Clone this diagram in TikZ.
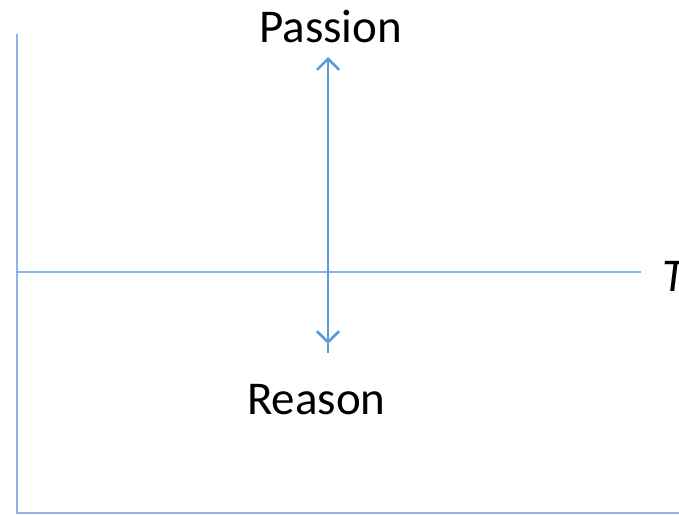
\documentclass[tikz,border=0pt]{standalone}
\usepackage{fontspec}
\setmainfont{Carlito}
\usetikzlibrary{arrows.meta}
\definecolor{axisblue}{HTML}{8EB4E3}
\definecolor{arrowblue}{HTML}{5B9BD5}
\begin{document}
\begin{tikzpicture}[x=1pt,y=-1pt,
  axisline/.style={draw=axisblue,line width=1.3pt},
  lbl/.style={inner sep=0pt,anchor=base west,font=\fontsize{47}{52}\selectfont},
  dblarrow/.style={draw=arrowblue,line width=2.4pt,{Straight Barb[length=11pt,width=22pt,line width=2.6pt]}-{Straight Barb[length=11pt,width=22pt,line width=2.6pt]}}]
\useasboundingbox (0,0) rectangle (679,514);
\coordinate (top) at (17,34);
\coordinate (origin) at (17,513);
\coordinate (corner) at (679,513);
\coordinate (left) at (17,272);
\coordinate (right) at (641,272);
\coordinate (up) at (328,57);
\coordinate (down) at (328,344);
\coordinate (downend) at (328,353);
\draw[axisline] (top) -- (origin) -- (corner);
\draw[axisline] (left) -- (right);
\draw[dblarrow] (down) -- (up);
\draw[draw=arrowblue,line width=2pt] (down) -- (downend);
\node[lbl] (passion) at (259,42) {Passion};
\node[lbl] (reason) at (247,414) {Reason};
\node[lbl] (t) at (662,291) {\itshape T};
\end{tikzpicture}
\end{document}
